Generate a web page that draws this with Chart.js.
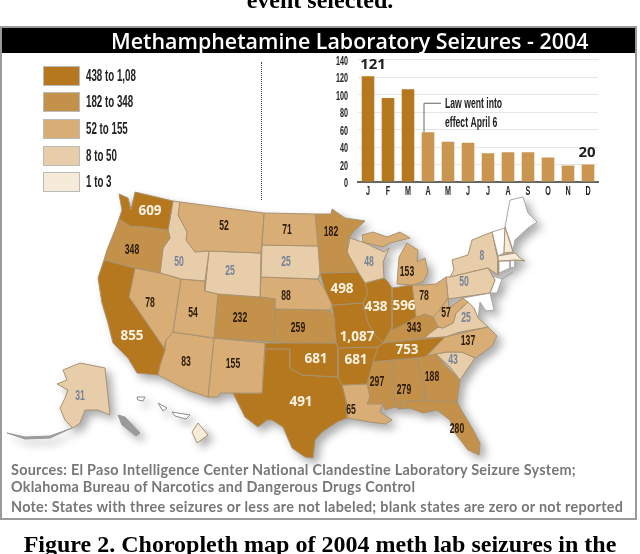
<!DOCTYPE html>
<html>
<head>
<meta charset="utf-8">
<script src="https://cdn.jsdelivr.net/npm/chart.js@4"></script>
<style>
html, body { margin: 0; padding: 0; background: #fff; overflow: hidden; }
#page { position: relative; width: 640px; height: 554px; filter: blur(0.45px); overflow: hidden; }
#page div { position: absolute; white-space: nowrap; }
.caption { left: 0; width: 640px; text-align: center; font: bold 24px "Liberation Serif", serif; color: #000; }
#frame { left: 0; top: 26px; width: 633px; height: 490px; border: 2px solid #9a9a9a; }
#band { left: 2px; top: 28px; width: 633px; height: 25px; background: #000; }
#title { left: 111px; top: 26px; font: 600 21.4px "Open Sans", sans-serif; color: #fff; }
#mapWrap { left: 0; top: 0; width: 640px; height: 554px; filter: drop-shadow(5px 5px 4px rgba(70,70,70,.45)); }
#barWrap { left: 320px; top: 50px; width: 285px; height: 155px; }
#divider { left: 261px; top: 62px; height: 138px; border-left: 1.5px dotted #444; }
.swatch { left: 43px; width: 35px; height: 18px; border: 1px solid #bbb; box-sizing: content-box; }
.legendText { left: 86px; font: bold 13px "Liberation Sans", sans-serif; color: #222; transform-origin: 0 50%; transform: scale(0.75, 1.2); }
.foot { left: 11px; font: bold 14.4px "Lato", sans-serif; color: #777; letter-spacing: 0.28px; }
</style>
</head>
<body>
<div id="page">
  <div class="caption" style="top:-13px">event selected.</div>
  <div id="frame"></div>
  <div id="band"></div>
  <div id="title">Methamphetamine Laboratory Seizures - 2004</div>
  <div id="divider"></div>
  <div id="mapWrap"><canvas id="mapChart" width="640" height="554"></canvas></div>
  <div id="barWrap"><canvas id="barChart" width="285" height="155"></canvas></div>
  <div class="foot" style="top:461px">Sources: El Paso Intelligence Center National Clandestine Laboratory Seizure System;</div>
  <div class="foot" style="top:478px">Oklahoma Bureau of Narcotics and Dangerous Drugs Control</div>
  <div class="foot" style="top:498px">Note: States with three seizures or less are not labeled; blank states are zero or not reported</div>
  <div class="caption" style="top:531px">Figure 2. Choropleth map of 2004 meth lab seizures in the</div>
</div>
<script>
// monthly bar values
const months = ['J', 'F', 'M', 'A', 'M', 'J', 'J', 'A', 'S', 'O', 'N', 'D'];
const monthlySeizures = [121, 96, 106, 57, 46, 45, 33, 34, 34, 28, 19, 20];

// legend bins
const legendLabels = ['438 to 1,08', '182 to 348', '52 to 155', '8 to 50', '1 to 3'];
const binFloors = [438, 182, 52, 8, 1];
const binColors = ['#b5781f', '#c4914a', '#d9ae76', '#e8cdaa', '#f6ebd9'];

// state seizure counts, 0 = blank
const stateNames = ['WA','OR','CA','NV','ID','MT','WY','UT','AZ','CO','NM','ND','SD','NE','KS','OK','TX','MN','IA','MO','AR','LA','WI','IL','MS','MI','MIU','IN','OH','KY','TN','AL','GA','FL','WV','VA','NC','SC','PA','NY','MA','NH','VT','ME','CT','RI','NJ','MD','LI','AK','HI'];
const stateValues = [609,348,855,78,50,52,25,54,83,232,155,71,25,88,259,681,491,182,498,1087,681,65,48,438,297,153,153,596,78,343,753,279,188,280,57,25,137,43,50,8,3,2,0,0,0,0,0,0,0,31,3];

// outlines in map units, 1 unit = 1 px of the source picture
const outlines = {
  WA: [119,194, 128,198, 131,210, 135,192, 173,201, 168,230, 147,227, 130,226, 119,219, 122,210],
  OR: [119,219, 130,226, 147,227, 168,230, 170,238, 163,248, 160,273, 135,268, 104,260, 107,250, 115,230],
  CA: [104,260, 135,268, 129,297, 164,348, 165,350, 160,365, 158,375, 137,373, 128,358, 113,343, 108,323, 102,303, 98,278],
  NV: [135,268, 160,273, 181,279, 173,332, 166,340, 164,348, 129,297],
  ID: [173,201, 180,202, 178,215, 187,232, 186,240, 195,252, 209,251, 205,281, 181,279, 160,273, 163,248, 170,238, 168,230],
  MT: [180,202, 264,213, 261,253, 209,251, 195,252, 186,240, 187,232, 178,215],
  WY: [209,251, 261,253, 260,297, 218,294, 205,291],
  UT: [181,279, 205,281, 205,291, 218,294, 214,338, 173,332],
  AZ: [173,332, 214,338, 208,397, 187,390, 158,375, 160,365, 165,350, 166,340],
  CO: [218,294, 260,297, 275,299, 274,342, 214,338],
  NM: [214,338, 265,343, 262,393, 220,393, 218,397, 208,397],
  ND: [264,213, 315,214, 318,246, 262,245],
  SD: [262,245, 318,246, 320,273, 318,279, 261,277],
  NE: [261,277, 318,279, 325,290, 332,305, 330,310, 275,309, 275,299, 260,297],
  KS: [275,309, 330,310, 334,318, 336,343, 274,342],
  OK: [265,343, 336,343, 338,348, 338,377, 302,375, 290,368, 290,349, 265,349],
  TX: [265,349, 290,349, 290,368, 302,375, 338,377, 342,385, 347,405, 347,418, 337,422, 322,432, 315,440, 313,458, 305,457, 292,448, 283,427, 272,420, 267,420, 258,427, 245,417, 233,393, 262,393],
  MN: [315,214, 331,214, 332,209, 345,218, 365,221, 352,233, 348,240, 347,252, 358,272, 320,273, 318,246],
  IA: [320,273, 358,272, 365,283, 368,293, 363,303, 332,305, 325,290],
  MO: [332,305, 363,303, 368,323, 375,335, 383,343, 378,347, 338,348, 336,343, 334,318],
  AR: [338,348, 378,347, 373,362, 367,384, 342,385, 338,377],
  LA: [342,385, 367,384, 370,397, 367,404, 383,404, 380,412, 392,420, 385,424, 370,422, 347,418, 347,405],
  WI: [350,238, 365,243, 384,252, 389,248, 383,262, 384,278, 365,283, 358,272, 347,252],
  IL: [365,283, 384,278, 388,282, 392,288, 392,327, 383,343, 375,335, 368,323, 363,303, 368,293],
  MS: [373,362, 393,360, 395,407, 385,410, 383,404, 367,404, 370,397, 367,384],
  MI: [397,284, 399,257, 407,243, 418,250, 417,262, 425,258, 428,272, 423,282, 412,285],
  MIU: [362,235, 373,232, 387,237, 400,232, 410,238, 390,243, 383,247, 363,242],
  IN: [392,288, 412,285, 416,317, 408,322, 393,330, 392,327],
  OH: [412,285, 425,285, 436,284, 446,277, 448,298, 438,312, 433,317, 425,314, 416,317],
  KY: [383,343, 392,327, 393,330, 408,322, 416,317, 425,314, 433,317, 438,327, 430,333, 425,338],
  TN: [383,343, 445,337, 425,357, 393,360, 373,362, 378,347],
  AL: [393,360, 417,358, 425,390, 425,400, 400,402, 401,409, 395,407],
  GA: [417,358, 436,354, 445,365, 460,380, 457,402, 425,400, 425,390],
  FL: [400,402, 425,400, 457,402, 463,413, 472,428, 480,443, 479,455, 468,450, 455,433, 450,420, 437,410, 423,413, 410,408, 398,409],
  WV: [448,298, 449,308, 463,298, 468,302, 456,313, 453,323, 443,328, 438,327, 433,317, 438,312],
  VA: [425,338, 430,333, 438,327, 443,328, 453,323, 456,313, 468,302, 474,308, 478,318, 488,327, 460,332, 445,337],
  NC: [427,356, 445,337, 488,327, 497,336, 492,346, 484,352, 475,358, 462,352, 447,352, 436,354],
  SC: [436,354, 447,352, 462,352, 475,358, 468,368, 460,380, 450,367],
  PA: [446,277, 450,277, 488,268, 495,280, 490,293, 448,299],
  NY: [452,260, 468,255, 472,240, 492,232, 498,260, 498,275, 488,268, 450,277, 454,270],
  MA: [498,256, 515,253, 520,258, 525,261, 517,260, 498,261],
  NH: [505,227, 513,252, 504,253],
  VT: [492,232, 505,228, 504,253, 498,256],
  ME: [510,200, 523,197, 528,213, 537,222, 528,228, 515,240, 513,250, 505,227],
  CT: [499,261, 510,261, 510,268, 499,273],
  RI: [510,261, 515,260, 515,267, 510,268],
  NJ: [493,276, 502,279, 497,293, 490,293, 495,280],
  MD: [449,308, 463,298, 490,293, 494,310, 486,311, 480,302, 478,318, 474,308, 468,302],
  LI: [500,280, 513,272, 504,278],
  AK: [63,370, 80,363, 105,368, 110,415, 98,410, 85,410, 80,423, 73,428, 65,420, 60,408, 65,398, 68,390, 57,384, 67,380],
  HI: [192,432, 198,423, 208,435, 197,443]
};

// alaska bits that have no value of their own
const greyIslands = [
  [7,433, 25,437, 50,436, 72,428, 50,438, 25,439],
  [118,415, 125,417, 140,433, 136,436, 122,425]
];
// small hawaiian islands
const whiteIslands = [
  [158,403, 167,408, 163,411],
  [172,412, 190,415, 186,419, 175,416],
  [137,397, 145,397, 143,401, 138,400]
];

// where each count is printed on the map
const labelSpots = {
  WA:[150,210], OR:[132,249], CA:[132,335], NV:[150,302], ID:[179,261], MT:[224,225], WY:[230,270], UT:[193,312],
  AZ:[186,361], CO:[240,317], NM:[233,363], ND:[287,229], SD:[286,261], NE:[286,295], KS:[298,327], OK:[316,358],
  TX:[301,401], MN:[331,231], IA:[342,288], MO:[357,336], AR:[356,359], LA:[351,409], WI:[369,261], IL:[376,306],
  MS:[377,381], MI:[407,271], IN:[404,305], OH:[424,295], KY:[414,327], TN:[407,349], AL:[404,389], GA:[432,376],
  FL:[457,428], WV:[446,312], VA:[466,317], NC:[468,340], SC:[453,359], PA:[464,281], NY:[482,255], AK:[80,395]
};

function binColor(v) {
  if (v < 1) return '#ffffff';
  const i = binFloors.findIndex(f => v >= f);
  return binColors[i];
}

function toPoints(flat) {
  const pts = [];
  for (let i = 0; i < flat.length; i += 2) pts.push({ x: flat[i], y: flat[i + 1] });
  pts.push({ x: flat[0], y: flat[1] });
  return pts;
}

function shapeSet(label, flat, fillColor, lineColor) {
  return {
    label: label,
    data: toPoints(flat),
    fill: 'shape',
    backgroundColor: fillColor,
    borderColor: lineColor,
    borderWidth: 1,
    pointRadius: 0,
    tension: 0,
    clip: false
  };
}

const stateSets = stateNames.map((name, i) =>
  shapeSet(name, outlines[name], binColor(stateValues[i]), stateValues[i] > 0 ? '#a8926f' : '#a9a9a9'));
const greySets = greyIslands.map(isl => shapeSet('island', isl, '#9a9a9a', '#9a9a9a'));
const whiteSets = whiteIslands.map(isl => shapeSet('island', isl, '#ffffff', '#8c8c8c'));

const mapChart = new Chart(document.getElementById('mapChart'), {
  type: 'line',
  data: { datasets: greySets.concat(whiteSets, stateSets) },
  options: {
    responsive: false,
    animation: false,
    events: [],
    layout: { padding: 0 },
    plugins: { legend: { display: false }, tooltip: { enabled: false } },
    scales: {
      x: { type: 'linear', min: 0, max: 640, display: false },
      y: { type: 'linear', min: 0, max: 554, reverse: true, display: false }
    }
  }
});

// count labels on top of the map, not in the shadowed canvas
const page = document.getElementById('page');
stateNames.forEach((name, i) => {
  const spot = labelSpots[name];
  if (!spot) return;
  const v = stateValues[i];
  const el = document.createElement('div');
  el.textContent = v.toLocaleString('en-US');
  el.style.left = mapChart.scales.x.getPixelForValue(spot[0]) + 'px';
  el.style.top = mapChart.scales.y.getPixelForValue(spot[1]) + 'px';
  if (v >= 438) {
    el.style.font = 'bold 13.5px "Open Sans", sans-serif';
    el.style.color = '#fbf3e4';
    el.style.transform = 'translate(-50%, -50%)';
  } else {
    el.style.font = 'bold 12px "Liberation Sans", sans-serif';
    el.style.color = v >= 52 ? '#2a1a08' : '#76849a';
    el.style.transform = 'translate(-50%, -50%) scale(0.72, 1.2)';
  }
  page.appendChild(el);
});

// legend
const legendTops = [66, 92, 119, 146, 172];
legendLabels.forEach((text, i) => {
  const sw = document.createElement('div');
  sw.className = 'swatch';
  sw.style.top = legendTops[i] + 'px';
  sw.style.background = binColors[i];
  page.appendChild(sw);
  const t = document.createElement('div');
  t.className = 'legendText';
  t.textContent = text;
  t.style.top = (legendTops[i] + 2) + 'px';
  page.appendChild(t);
});

// squeezed text, the source uses a tall condensed face
function narrowText(ctx, text, x, y, size, align) {
  ctx.save();
  ctx.translate(x, y);
  ctx.scale(0.72, 1.25);
  ctx.font = 'bold ' + size + 'px "Liberation Sans", sans-serif';
  ctx.textAlign = align;
  ctx.textBaseline = 'middle';
  ctx.fillText(text, 0, 0);
  ctx.restore();
}

const barNotes = {
  id: 'barNotes',
  afterDatasetsDraw(chart) {
    const { ctx, scales } = chart;
    const xA = scales.x.getPixelForValue(3) - 4;
    const yTop = scales.y.getPixelForValue(90);
    ctx.save();
    ctx.strokeStyle = '#666';
    ctx.lineWidth = 1;
    ctx.beginPath();
    ctx.moveTo(xA, scales.y.getPixelForValue(monthlySeizures[3]));
    ctx.lineTo(xA, yTop);
    ctx.lineTo(xA + 17, yTop);
    ctx.stroke();
    ctx.fillStyle = '#222';
    narrowText(ctx, 'Law went into', xA + 21, yTop + 1, 12, 'left');
    narrowText(ctx, 'effect April 6', xA + 21, yTop + 20, 12, 'left');
    // axis labels from the scales' own ticks
    scales.y.ticks.forEach((t, i) => narrowText(ctx, String(t.value), 28, scales.y.getPixelForTick(i) + 2, 10, 'right'));
    scales.x.ticks.forEach((t, i) => narrowText(ctx, months[i], scales.x.getPixelForTick(i), scales.y.bottom + 10, 10, 'center'));
    ctx.font = 'bold 15px "Open Sans", sans-serif';
    ctx.textAlign = 'center';
    ctx.textBaseline = 'middle';
    ctx.fillText(String(monthlySeizures[0]), scales.x.getPixelForValue(0) + 5, scales.y.getPixelForValue(134));
    ctx.fillText(String(monthlySeizures[11]), scales.x.getPixelForValue(11) - 1, scales.y.getPixelForValue(34));
    ctx.restore();
  }
};

new Chart(document.getElementById('barChart'), {
  type: 'bar',
  data: {
    labels: months,
    datasets: [{
      data: monthlySeizures,
      backgroundColor: monthlySeizures.map((v, i) => i < 3 ? binColors[0] : '#c9954f'),
      categoryPercentage: 1,
      barPercentage: 0.63
    }]
  },
  options: {
    responsive: false,
    animation: false,
    events: [],
    layout: { padding: { top: 9.5, right: 7 } },
    plugins: { legend: { display: false }, tooltip: { enabled: false } },
    scales: {
      x: {
        grid: { display: false },
        border: { color: '#666', width: 2 },
        ticks: { display: false, autoSkip: false },
        afterFit(s) { s.height = 23; }
      },
      y: {
        min: 0,
        max: 140,
        grid: { color: '#e6e6e6', drawTicks: false },
        border: { display: false },
        ticks: { stepSize: 20, display: false },
        afterFit(s) { s.width = 38; }
      }
    }
  },
  plugins: [barNotes]
});
</script>
</body>
</html>
